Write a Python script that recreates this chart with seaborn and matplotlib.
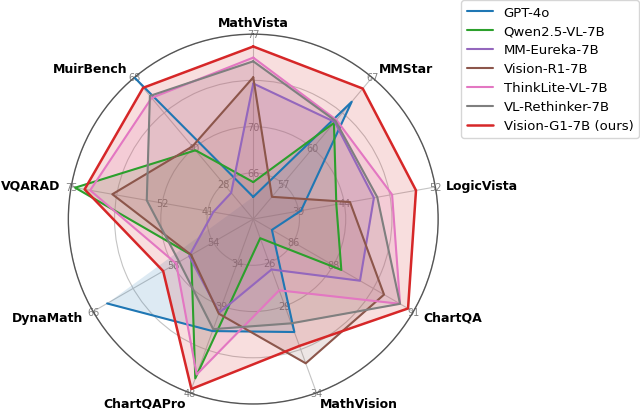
import numpy as np
import matplotlib
matplotlib.use("Agg")
import matplotlib.pyplot as plt
import seaborn as sns

# benchmarks, clockwise from the top
CATEGORIES = ["MathVista", "MMStar", "LogicVista", "ChartQA", "MathVision",
              "ChartQAPro", "DynaMath", "VQARAD", "MuirBench"]
AXIS_MIN = [62, 53, 36, 85, 24, 30, 50, 29, 12]
AXIS_MAX = [77, 67, 52, 91, 34, 48, 66, 75, 68]
TICK_POS = [0.25, 0.5, 1.0]
TICK_LABELS = [["66", "70", "77"], ["57", "60", "67"], ["39", "44", "52"],
               ["86", "88", "91"], ["26", "29", "34"], ["34", "39", "48"],
               ["54", "58", "66"], ["41", "52", "75"], ["28", "40", "68"]]

MODELS = ["GPT-4o", "Qwen2.5-VL-7B", "MM-Eureka-7B", "Vision-R1-7B",
          "ThinkLite-VL-7B", "VL-Rethinker-7B", "Vision-G1-7B (ours)"]
GPT4O = [63.8, 64.6, 40.2, 85.7, 30.5, 41.6, 64.6, np.nan, 68.0]
QWEN = [65.0, 62.5, 43.3, 88.3, 25.1, 46.5, 56.2, 74.0, 39.2]
EUREKA = [73.0, 62.6, 46.6, 89.0, 26.9, 39.7, 56.4, 39.1, 22.4]
VISION_R1 = [73.5, 55.2, 44.5, 89.9, 32.3, 39.8, 56.2, 64.6, 40.7]
THINKLITE = [75.1, 62.8, 48.2, 90.5, 28.1, 46.1, 57.7, 70.2, 59.9]
RETHINKER = [74.8, 62.7, 46.9, 90.5, 30.0, 41.4, 57.4, 55.9, 60.7]
VISION_G1 = [76.0, 65.9, 50.3, 90.8, 31.3, 47.6, 59.0, 71.6, 63.9]
SCORES = [GPT4O, QWEN, EUREKA, VISION_R1, THINKLITE, RETHINKER, VISION_G1]

sns.set_style("white")
plt.rcParams["text.color"] = "black"
pal = sns.color_palette("tab10")
COLORS = [pal[0], pal[2], pal[4], pal[5], pal[6], pal[7], pal[3]]

lo = np.array(AXIS_MIN, dtype=float)
hi = np.array(AXIS_MAX, dtype=float)
n = len(CATEGORIES)
angles = np.linspace(0, 2 * np.pi, n, endpoint=False)

fig = plt.figure(figsize=(6.4, 4.1), dpi=100)
ax = fig.add_axes([0.1067, 0.0122, 0.578, 0.902], polar=True)
ax.set_theta_offset(np.pi / 2)
ax.set_theta_direction(-1)

handles = []
for name, vals, col in zip(MODELS, SCORES, COLORS):
    r = (np.array(vals, dtype=float) - lo) / (hi - lo)
    th = np.append(angles, angles[0])
    rr = np.append(r, r[0])
    lw = 1.8 if name.endswith("(ours)") else 1.5
    line, = ax.plot(th, rr, color=col, lw=lw, label=name, zorder=3)
    ax.fill(th, rr, color=col, alpha=0.15, zorder=2)
    handles.append(line)

ax.set_ylim(0, 1)
ax.set_xticks(angles)
ax.set_xticklabels([])
ax.set_yticks([0.25, 0.5, 0.75, 1.0])
ax.set_yticklabels([])
ax.grid(color="#c4c4c4", lw=0.8)
ax.spines["polar"].set_edgecolor("#555555")
ax.spines["polar"].set_linewidth(1.0)

# per-axis scale labels
for i, a in enumerate(angles):
    for pos, lab in zip(TICK_POS, TICK_LABELS[i]):
        ax.text(a, pos, lab, ha="center", va="center", fontsize=7,
                color="#808080", zorder=1)

# benchmark names
for a, cat in zip(angles, CATEGORIES):
    s = np.sin(a)
    if abs(s) < 0.1:
        ax.text(a, 1.03, cat, ha="center", va="bottom", fontsize=9,
                fontweight="bold", color="black")
    else:
        ax.text(a, 1.06, cat, ha="left" if s > 0 else "right", va="center",
                fontsize=9, fontweight="bold", color="black")

fig.legend(handles=handles, loc="upper right", bbox_to_anchor=(1.0, 1.0),
           fontsize=9.5, labelspacing=0.45, borderaxespad=0.1)

fig.savefig("out.png", dpi=100)
